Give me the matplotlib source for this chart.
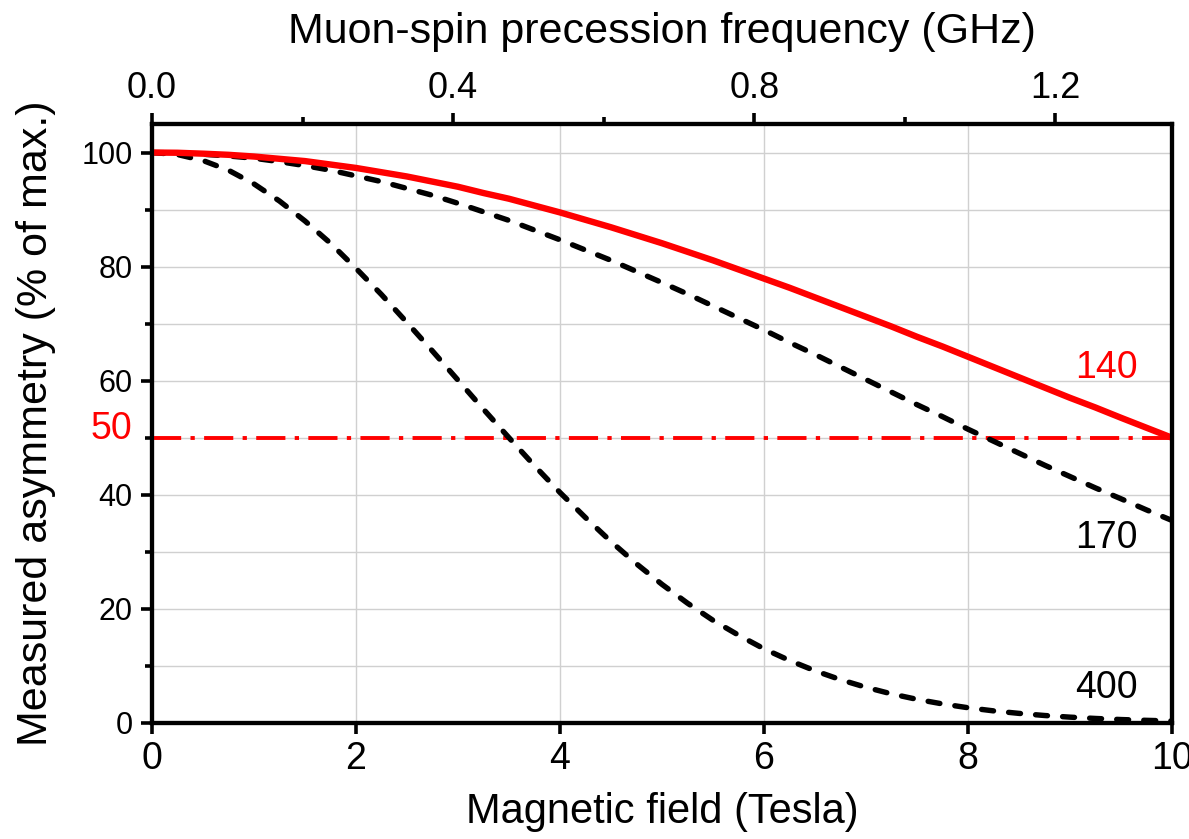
import numpy as np
import matplotlib
matplotlib.use("Agg")
import matplotlib.pyplot as plt
from matplotlib.ticker import MultipleLocator, FormatStrFormatter

plt.rcParams["font.family"] = ["Liberation Sans", "DejaVu Sans"]

# magnetic field (Tesla)
field = [0.0, 0.25, 0.5, 0.75, 1.0, 1.25, 1.5, 1.75, 2.0, 2.25, 2.5, 2.75,
         3.0, 3.25, 3.5, 3.75, 4.0, 4.25, 4.5, 4.75, 5.0, 5.25, 5.5, 5.75,
         6.0, 6.25, 6.5, 6.75, 7.0, 7.25, 7.5, 7.75, 8.0, 8.25, 8.5, 8.75,
         9.0, 9.25, 9.5, 9.75, 10.0]

# measured asymmetry (% of max.) for each curve
asym_140 = [100.0, 99.96, 99.8, 99.6, 99.3, 98.9, 98.5, 97.9, 97.3, 96.55,
            95.8, 94.9, 94.0, 92.9, 91.9, 90.7, 89.5, 88.2, 86.9, 85.5,
            84.1, 82.6, 81.1, 79.5, 77.9, 76.3, 74.6, 72.9, 71.2, 69.5,
            67.7, 66.0, 64.2, 62.4, 60.6, 58.8, 57.0, 55.3, 53.5, 51.75, 50.0]
asym_170 = [100.0, 99.94, 99.7, 99.4, 99.0, 98.4, 97.7, 96.9, 95.9, 94.9,
            93.7, 92.5, 91.1, 89.6, 88.1, 86.4, 84.7, 82.9, 81.1, 79.15,
            77.2, 75.2, 73.1, 71.0, 68.9, 66.7, 64.6, 62.4, 60.2, 58.0,
            55.8, 53.7, 51.5, 49.4, 47.3, 45.2, 43.2, 41.2, 39.3, 37.35, 35.5]
asym_400 = [100.0, 99.65, 98.6, 96.9, 94.5, 91.5, 88.0, 84.1, 79.7, 75.1,
            70.2, 65.2, 60.1, 55.0, 50.0, 45.1, 40.4, 36.0, 31.8, 27.9,
            24.3, 21.0, 18.0, 15.4, 13.0, 10.96, 9.15, 7.59, 6.25, 5.10,
            4.14, 3.34, 2.67, 2.12, 1.68, 1.31, 1.02, 0.79, 0.60, 0.46, 0.35]

half_level = 50
ghz_max = 1.355  # top axis span for 0..10 T

fig = plt.figure(figsize=(11.89, 8.39), dpi=100)
ax = fig.add_axes([0.1278, 0.1383, 0.8579, 0.7139])

ax.set_xlim(0, 10)
ax.set_ylim(0, 105)

ax.xaxis.set_major_locator(MultipleLocator(2))
ax.yaxis.set_major_locator(MultipleLocator(20))
ax.yaxis.set_minor_locator(MultipleLocator(10))

ax.grid(True, which="major", axis="x", color="#d0d0d0", lw=1.0)
ax.grid(True, which="both", axis="y", color="#d0d0d0", lw=1.0)
ax.set_axisbelow(True)

ax.axhline(half_level, color="red", lw=2.8, dashes=(7.5, 2.4, 1.1, 2.4), zorder=3)
ax.plot(field, asym_400, color="black", lw=3.9, dashes=(2.2, 2.8),
        dash_capstyle="round", zorder=4)
ax.plot(field, asym_170, color="black", lw=3.9, dashes=(2.2, 2.8),
        dash_capstyle="round", zorder=4)
ax.plot(field, asym_140, color="red", lw=4.6, solid_capstyle="butt", zorder=5)

ax.text(9.66, 60.4, "140", color="red", fontsize=27, ha="right", va="baseline")
ax.text(9.66, 30.7, "170", color="black", fontsize=27, ha="right", va="baseline")
ax.text(9.66, 4.3, "400", color="black", fontsize=27, ha="right", va="baseline")
ax.text(-0.19, 49.8, "50", color="red", fontsize=27, ha="right", va="baseline",
        clip_on=False)

for s in ax.spines.values():
    s.set_linewidth(3.0)

ax.tick_params(axis="x", which="major", direction="out", length=8, width=2.6,
               labelsize=27, pad=5)
ax.tick_params(axis="y", which="major", direction="out", length=8, width=2.6,
               labelsize=22, pad=6)
ax.tick_params(axis="y", which="minor", direction="out", length=5, width=2.6)

ax.set_xlabel("Magnetic field (Tesla)", fontsize=30, labelpad=11)
ax.set_ylabel("Measured asymmetry (% of max.)", fontsize=31, labelpad=18)

top = ax.twiny()
top.set_xlim(0, ghz_max)
top.xaxis.set_major_locator(MultipleLocator(0.4))
top.xaxis.set_minor_locator(MultipleLocator(0.2))
top.xaxis.set_major_formatter(FormatStrFormatter("%.1f"))
top.tick_params(axis="x", which="major", direction="out", length=8, width=2.6,
                labelsize=26, pad=5)
top.tick_params(axis="x", which="minor", direction="out", length=5, width=2.6)
top.set_xlabel("Muon-spin precession frequency (GHz)", fontsize=31, labelpad=20)
for s in top.spines.values():
    s.set_linewidth(3.0)

fig.savefig("out.png", dpi=100)
